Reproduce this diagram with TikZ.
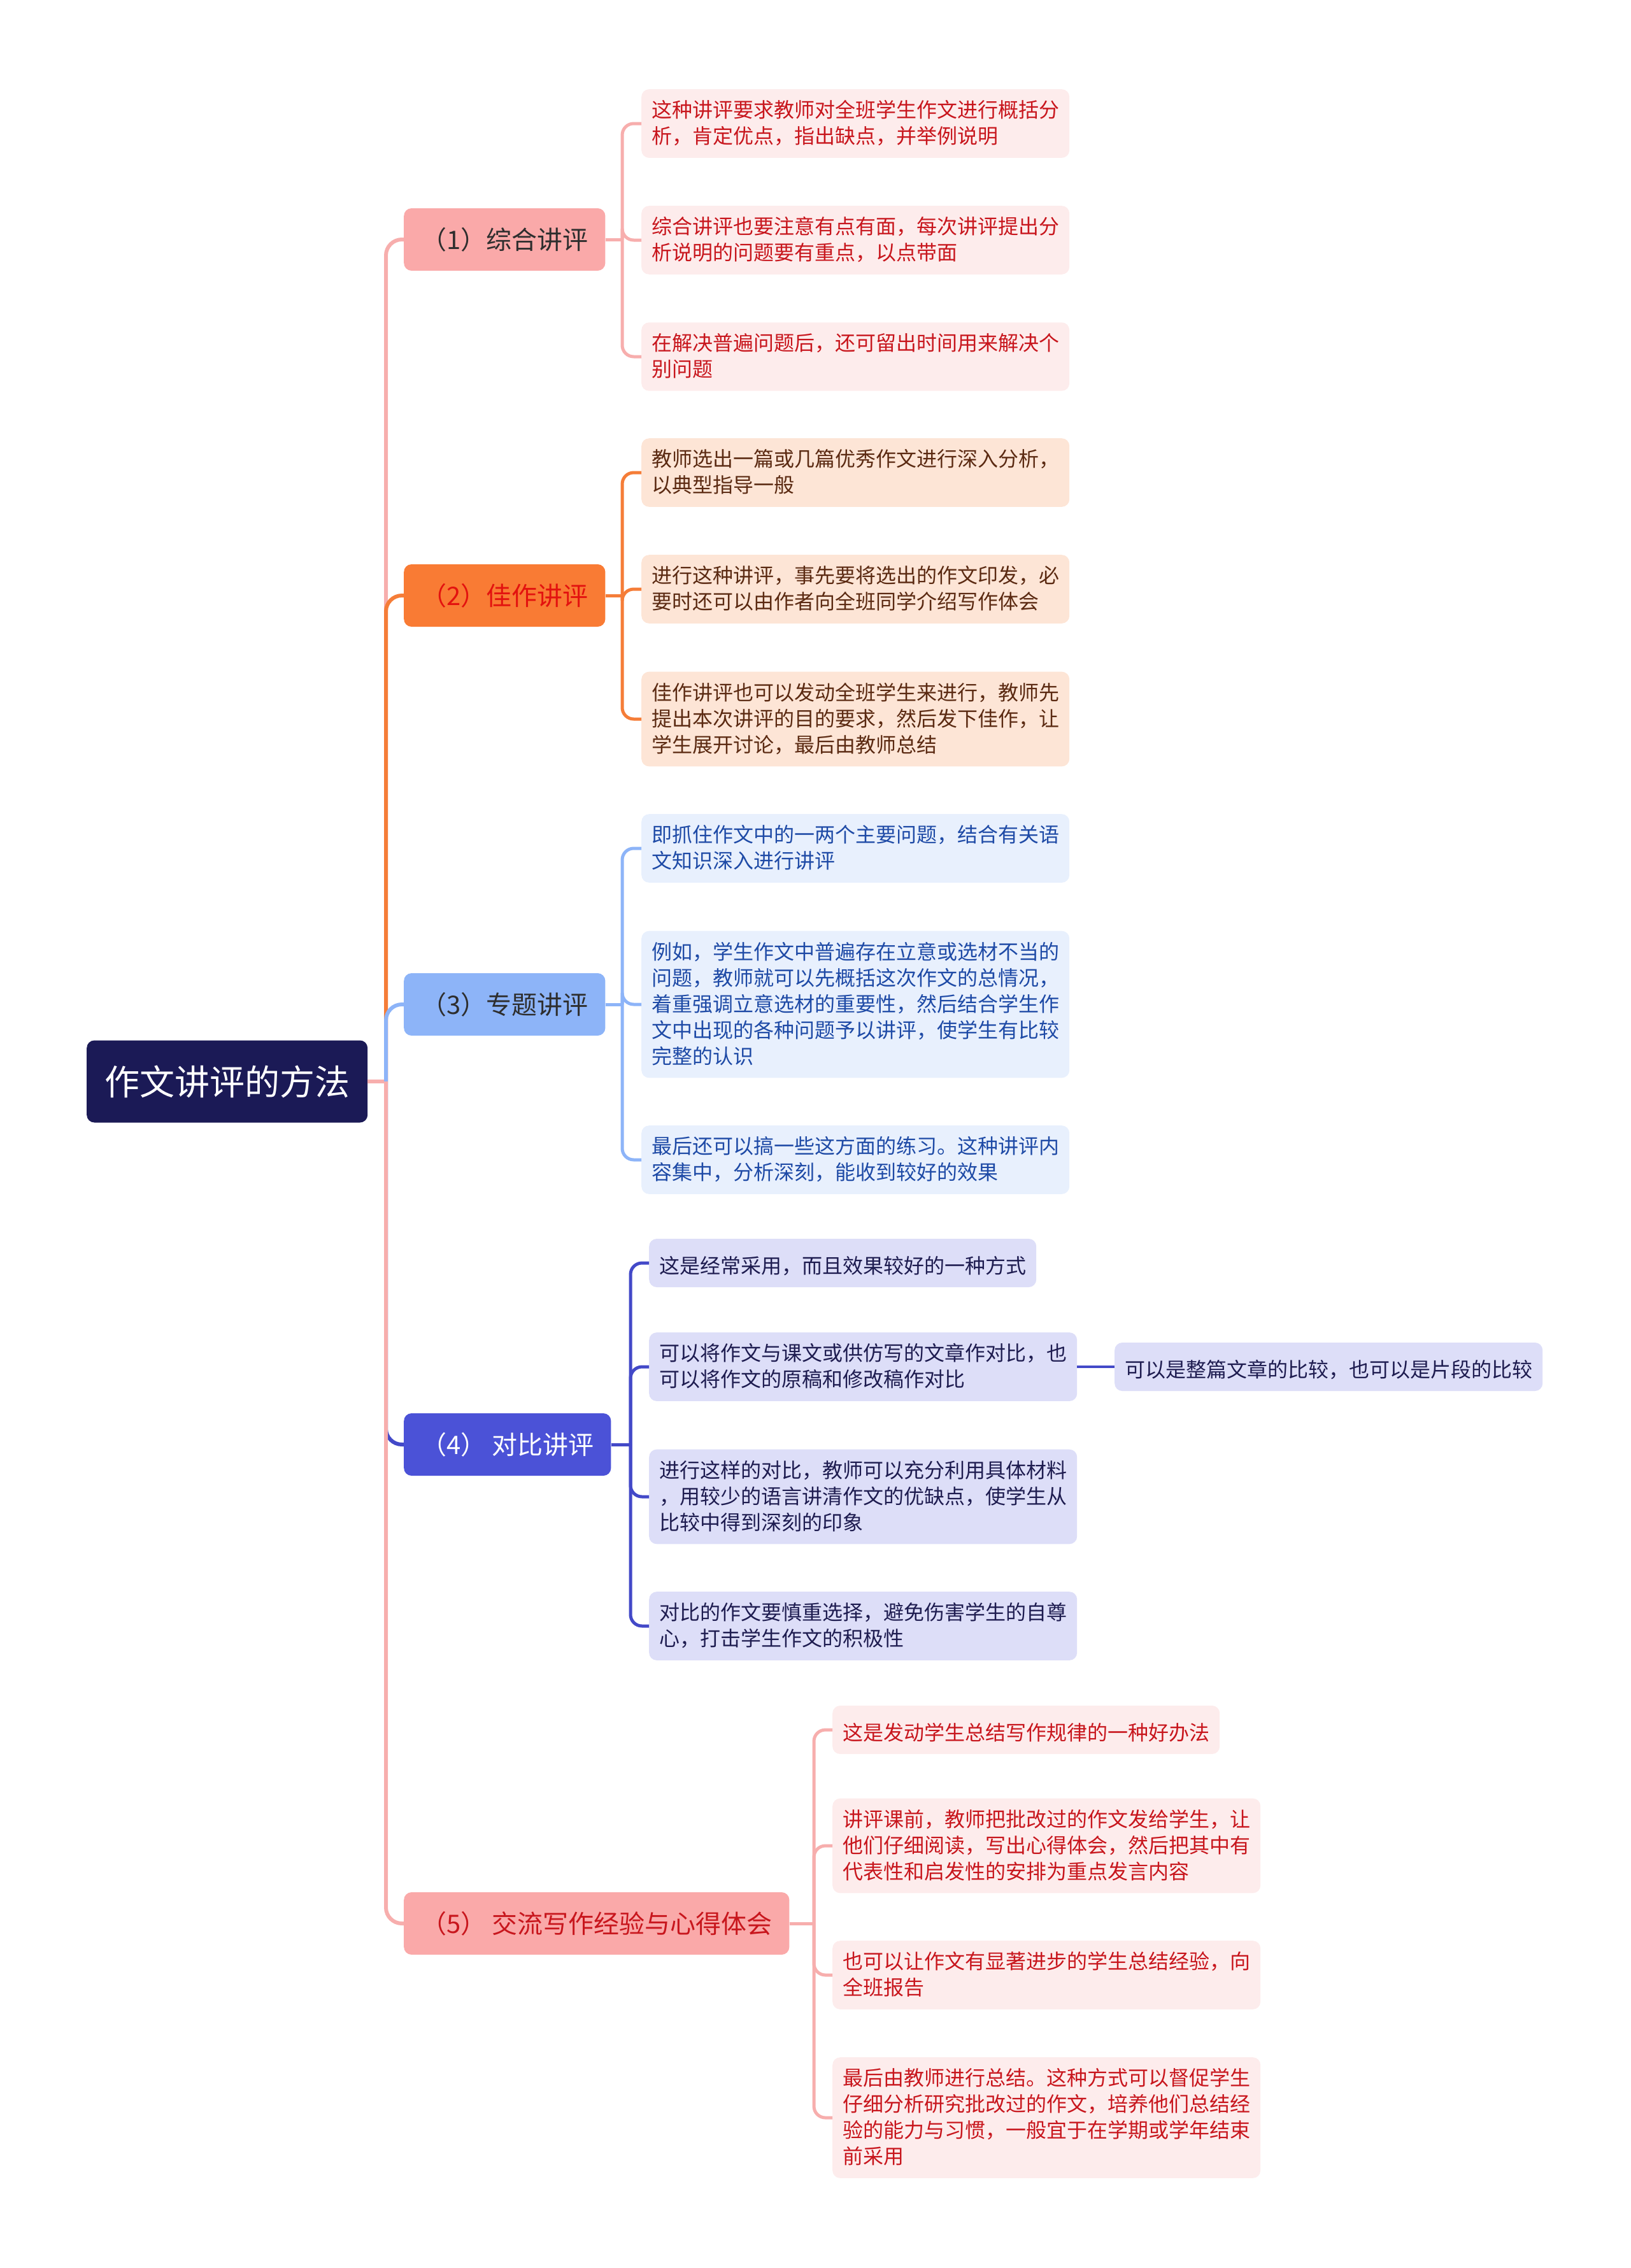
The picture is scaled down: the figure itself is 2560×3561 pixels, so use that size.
\documentclass[tikz,border=0pt]{standalone}
\usepackage{fontspec}
\setmainfont{Noto Sans CJK SC}
\definecolor{rootnavy}{HTML}{1B1A56}
\definecolor{pinkfill}{HTML}{FAA9A9}
\definecolor{orangefill}{HTML}{F97B34}
\definecolor{bluefill}{HTML}{8DB4F8}
\definecolor{indigofill}{HTML}{4B52D7}
\definecolor{pinkleaf}{HTML}{FDECEC}
\definecolor{orangeleaf}{HTML}{FDE5D6}
\definecolor{blueleaf}{HTML}{E8F0FD}
\definecolor{indigoleaf}{HTML}{DDDEF8}
\definecolor{pinkline}{HTML}{F7AEAD}
\definecolor{orangeline}{HTML}{F57D38}
\definecolor{blueline}{HTML}{8DB4F8}
\definecolor{indigoline}{HTML}{4349C8}
\definecolor{redtext}{HTML}{C8161D}
\definecolor{brighttext}{HTML}{E3120F}
\definecolor{browntext}{HTML}{5B2A12}
\definecolor{bluetext}{HTML}{1E4AA6}
\definecolor{navytext}{HTML}{1E1C50}
\definecolor{graytext}{HTML}{2E2E2E}
\newcommand\leafstrut{\rule[-4.5pt]{0pt}{41pt}}
\begin{document}
\begin{tikzpicture}[x=1pt,y=-1pt,
  rootbox/.style={fill=rootnavy,text=white,rounded corners=12pt,anchor=west,
    inner xsep=28pt,inner ysep=37pt,text height=48.5pt,text depth=6.5pt,
    font=\fontsize{55}{66}\selectfont},
  topicbox/.style={rounded corners=12pt,anchor=west,inner xsep=27pt,inner ysep=29pt,
    text height=35pt,text depth=5pt,font=\fontsize{40}{48}\selectfont},
  leafbox/.style={rounded corners=12pt,anchor=west,inner xsep=16pt,inner ysep=17.5pt,
    align=left,font=\fontsize{32}{41}\selectfont,
    execute at begin node=\leafstrut,execute at end node=\leafstrut},
  trunk/.style={line width=6pt,rounded corners=25pt},
  twig/.style={line width=5pt,rounded corners=18pt},
  sprig/.style={line width=4pt}]
\useasboundingbox (0,0) rectangle (2560,3561);

\node[rootbox] (root) at (136,1698) {作文讲评的方法};

\node[topicbox,fill=pinkfill,text=graytext] (t1) at (634,376) {（1）综合讲评};
\node[topicbox,fill=orangefill,text=brighttext] (t2) at (634,935) {（2）佳作讲评};
\node[topicbox,fill=bluefill,text=graytext] (t3) at (634,1577) {（3）专题讲评};
\node[topicbox,fill=indigofill,text=white] (t4) at (634,2268) {（4） 对比讲评};
\node[topicbox,fill=pinkfill,text=redtext] (t5) at (634,3020) {（5） 交流写作经验与心得体会};

\node[leafbox,fill=pinkleaf,text=redtext] (a1) at (1007,194) {这种讲评要求教师对全班学生作文进行概括分\\析，肯定优点，指出缺点，并举例说明};
\node[leafbox,fill=pinkleaf,text=redtext] (a2) at (1007,377) {综合讲评也要注意有点有面，每次讲评提出分\\析说明的问题要有重点，以点带面};
\node[leafbox,fill=pinkleaf,text=redtext] (a3) at (1007,560) {在解决普遍问题后，还可留出时间用来解决个\\别问题};

\node[leafbox,fill=orangeleaf,text=browntext] (b1) at (1007,742) {教师选出一篇或几篇优秀作文进行深入分析，\\以典型指导一般};
\node[leafbox,fill=orangeleaf,text=browntext] (b2) at (1007,925) {进行这种讲评，事先要将选出的作文印发，必\\要时还可以由作者向全班同学介绍写作体会};
\node[leafbox,fill=orangeleaf,text=browntext] (b3) at (1007,1129) {佳作讲评也可以发动全班学生来进行，教师先\\提出本次讲评的目的要求，然后发下佳作，让\\学生展开讨论，最后由教师总结};

\node[leafbox,fill=blueleaf,text=bluetext] (c1) at (1007,1332) {即抓住作文中的一两个主要问题，结合有关语\\文知识深入进行讲评};
\node[leafbox,fill=blueleaf,text=bluetext] (c2) at (1007,1577) {例如，学生作文中普遍存在立意或选材不当的\\问题，教师就可以先概括这次作文的总情况，\\着重强调立意选材的重要性，然后结合学生作\\文中出现的各种问题予以讲评，使学生有比较\\完整的认识};
\node[leafbox,fill=blueleaf,text=bluetext] (c3) at (1007,1821) {最后还可以搞一些这方面的练习。这种讲评内\\容集中，分析深刻，能收到较好的效果};

\node[leafbox,fill=indigoleaf,text=navytext] (d1) at (1019,1983) {这是经常采用，而且效果较好的一种方式};
\node[leafbox,fill=indigoleaf,text=navytext] (d2) at (1019,2146) {可以将作文与课文或供仿写的文章作对比，也\\可以将作文的原稿和修改稿作对比};
\node[leafbox,fill=indigoleaf,text=navytext] (d3) at (1019,2350) {进行这样的对比，教师可以充分利用具体材料\\，用较少的语言讲清作文的优缺点，使学生从\\比较中得到深刻的印象};
\node[leafbox,fill=indigoleaf,text=navytext] (d4) at (1019,2553) {对比的作文要慎重选择，避免伤害学生的自尊\\心，打击学生作文的积极性};
\node[leafbox,fill=indigoleaf,text=navytext] (d21) at (1750,2146) {可以是整篇文章的比较，也可以是片段的比较};

\node[leafbox,fill=pinkleaf,text=redtext] (e1) at (1307,2716) {这是发动学生总结写作规律的一种好办法};
\node[leafbox,fill=pinkleaf,text=redtext] (e2) at (1307,2898) {讲评课前，教师把批改过的作文发给学生，让\\他们仔细阅读，写出心得体会，然后把其中有\\代表性和启发性的安排为重点发言内容};
\node[leafbox,fill=pinkleaf,text=redtext] (e3) at (1307,3101) {也可以让作文有显著进步的学生总结经验，向\\全班报告};
\node[leafbox,fill=pinkleaf,text=redtext] (e4) at (1307,3325) {最后由教师进行总结。这种方式可以督促学生\\仔细分析研究批改过的作文，培养他们总结经\\验的能力与习惯，一般宜于在学期或学年结束\\前采用};

\coordinate (rj) at (606,1698);
\coordinate (j1) at (977,376);
\coordinate (j2) at (977,935);
\coordinate (j3) at (977,1577);
\coordinate (j4) at (990,2268);
\coordinate (j5) at (1278,3020);

\draw[trunk,pinkline] (root.east) -- (rj);
\draw[trunk,pinkline] (rj) |- (t1.west);
\draw[trunk,orangeline] (rj) |- (t2.west);
\draw[trunk,blueline] (rj) |- (t3.west);
\draw[trunk,indigoline] (rj) |- (t4.west);
\draw[trunk,pinkline] (rj) |- (t5.west);

\draw[twig,pinkline] (t1.east) -- (j1);
\foreach \n in {a1,a2,a3} \draw[twig,pinkline] (j1) |- (\n.west);
\draw[twig,orangeline] (t2.east) -- (j2);
\foreach \n in {b1,b2,b3} \draw[twig,orangeline] (j2) |- (\n.west);
\draw[twig,blueline] (t3.east) -- (j3);
\foreach \n in {c1,c2,c3} \draw[twig,blueline] (j3) |- (\n.west);
\draw[twig,indigoline] (t4.east) -- (j4);
\foreach \n in {d1,d2,d3,d4} \draw[twig,indigoline] (j4) |- (\n.west);
\draw[sprig,indigoline] (d2.east) -- (d21.west);
\draw[twig,pinkline] (t5.east) -- (j5);
\foreach \n in {e1,e2,e3,e4} \draw[twig,pinkline] (j5) |- (\n.west);
\end{tikzpicture}
\end{document}
